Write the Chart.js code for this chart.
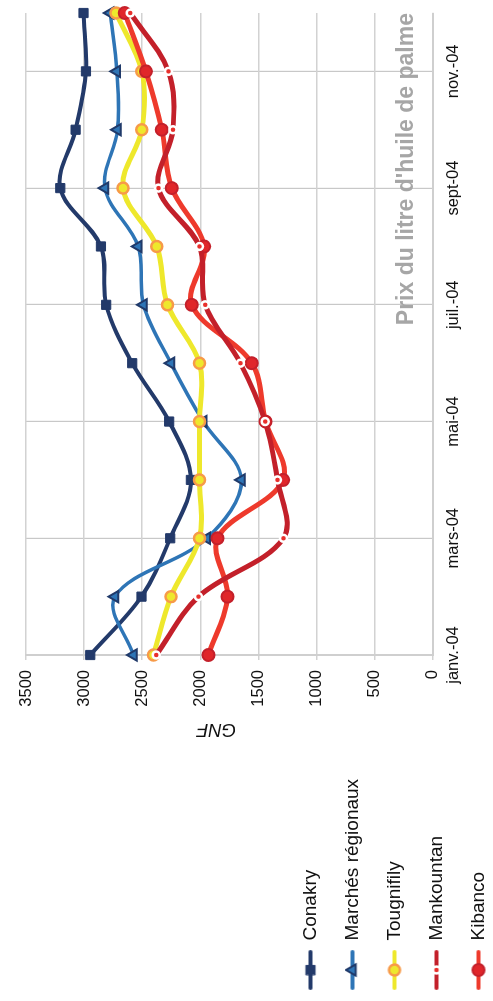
<!DOCTYPE html>
<html>
<head>
<meta charset="utf-8">
<script src="https://cdn.jsdelivr.net/npm/chart.js@4/dist/chart.umd.min.js"></script>
<style>
  html, body { margin: 0; padding: 0; background: #fff; overflow: hidden; }
  /* the chart is drawn the normal way and then turned a quarter turn */
  #wrap { position: absolute; left: 0; top: 0; width: 1001px; height: 493px;
          transform-origin: 0 0; transform: translateY(1001px) rotate(-90deg); }
</style>
</head>
<body>
<div id="wrap"><canvas id="myChart" width="1001" height="493"></canvas></div>
<script>
// Prix du litre d'huile de palme (GNF), janv.-04 -> déc.-04
var Title = "Prix du litre d'huile de palme";
var Months = ['janv.-04', 'févr.-04', 'mars-04', 'avr.-04', 'mai-04', 'juin-04',
              'juil.-04', 'août-04', 'sept-04', 'oct.-04', 'nov.-04', 'déc.-04'];
var Conakry    = [2947, 2506, 2259, 2081, 2268, 2586, 2810, 2855, 3205, 3073, 2984, 3005];
var Regionaux  = [2575, 2735, 1944, 1646, 1975, 2253, 2489, 2534, 2821, 2712, 2718, 2775];
var Tougnifily = [2403, 2253, 2007, 2007, 2007, 2007, 2282, 2374, 2666, 2503, 2503, 2726];
var Mankountan = [2380, 2016, 1285, 1336, 1442, 1655, 1958, 2007, 2360, 2236, 2274, 2602];
var Kibanco    = [1930, 1766, 1852, 1287, 1438, 1557, 2073, 1967, 2245, 2331, 2468, 2650];
var YTicks = [0, 500, 1000, 1500, 2000, 2500, 3000, 3500];

var FONT = '"Liberation Sans", Arial, sans-serif';
Chart.defaults.font.family = FONT;
Chart.defaults.color = '#111';

// little line + marker picture for the legend
function legendIcon(ds) {
  var c = document.createElement('canvas');
  c.width = 40; c.height = 16;
  var g = c.getContext('2d');
  g.strokeStyle = ds.borderColor;
  g.lineWidth = 4;
  g.lineCap = 'round';
  g.beginPath(); g.moveTo(2, 8); g.lineTo(38, 8); g.stroke();
  g.fillStyle = ds.pointBackgroundColor;
  g.strokeStyle = ds.pointBorderColor;
  g.lineWidth = ds.pointBorderWidth;
  Chart.helpers.drawPoint(g, { pointStyle: ds.pointStyle, radius: ds.pointRadius,
                               rotation: 0, borderWidth: ds.pointBorderWidth }, 20, 8);
  return c;
}

var titlePlugin = {
  id: 'innerTitle',
  beforeDatasetsDraw: function (chart) {
    var ctx = chart.ctx, area = chart.chartArea;
    ctx.save();
    ctx.font = 'bold 23px ' + FONT;
    ctx.fillStyle = '#a6a6a6';
    ctx.textAlign = 'right';
    ctx.textBaseline = 'alphabetic';
    ctx.fillText(Title, area.right, area.bottom - 20);
    ctx.restore();
  }
};

var datasets = [{
    label: 'Conakry', data: Conakry, order: 5,
    borderColor: '#233a6a', borderWidth: 4,
    pointStyle: 'rect', pointRadius: 6.5, pointBorderWidth: 1,
    pointBackgroundColor: '#233a6a', pointBorderColor: '#233a6a'
  }, {
    label: 'Marchés régionaux', data: Regionaux, order: 4,
    borderColor: '#2e75b6', borderWidth: 3.5,
    pointStyle: 'triangle', pointRadius: 6.5, pointBorderWidth: 2,
    pointBackgroundColor: '#2e75b6', pointBorderColor: '#203a6a'
  }, {
    label: 'Tougnifily', data: Tougnifily, order: 3,
    borderColor: '#eee82c', borderWidth: 5,
    pointStyle: 'circle', pointRadius: 5.5, pointBorderWidth: 2.5,
    pointBackgroundColor: '#eee82c', pointBorderColor: '#f79a48'
  }, {
    label: 'Mankountan', data: Mankountan, order: 1,
    borderColor: '#c3202a', borderWidth: 5,
    pointStyle: 'circle', pointRadius: 3.5, pointBorderWidth: 2.5,
    pointBackgroundColor: '#e8302c', pointBorderColor: '#ffffff'
  }, {
    label: 'Kibanco', data: Kibanco, order: 2,
    borderColor: '#ee3a2c', borderWidth: 5,
    pointStyle: 'circle', pointRadius: 6, pointBorderWidth: 2,
    pointBackgroundColor: '#e0262a', pointBorderColor: '#c4202a'
  }];
datasets.forEach(function (ds) { ds.tension = 0.35; ds.clip = false; ds.fill = false; });

var ctx = document.getElementById('myChart').getContext('2d');
var myChart = new Chart(ctx, {
  type: 'line',
  data: { labels: Months, datasets: datasets },
  plugins: [titlePlugin],
  options: {
    responsive: false,
    devicePixelRatio: 1,
    animation: false,
    events: [],
    layout: { padding: { left: -12, right: 13, top: 26, bottom: -18 } },
    plugins: {
      tooltip: { enabled: false },
      legend: {
        position: 'left',
        align: 'end',
        labels: {
          usePointStyle: true,
          pointStyleWidth: 40,
          padding: 23,
          color: '#111',
          font: { size: 19 },
          sort: function (a, b) { return a.datasetIndex - b.datasetIndex; },
          generateLabels: function (chart) {
            return Chart.defaults.plugins.legend.labels.generateLabels(chart).map(function (item) {
              item.pointStyle = legendIcon(chart.data.datasets[item.datasetIndex]);
              return item;
            });
          }
        }
      }
    },
    scales: {
      x: {
        afterFit: function (s) { s.height = 78.3; },
        grid: {
          drawTicks: false,
          color: function (c) { return (c.index > 0 && c.index % 2 === 0) ? '#c8c8c8' : 'rgba(0,0,0,0)'; },
          lineWidth: 1.2,
          borderDash: [5, 3]
        },
        border: { color: '#cfcfcf', width: 2 },
        ticks: {
          autoSkip: false, maxRotation: 0, minRotation: 0, padding: 11,
          font: { size: 16.5 }, color: '#111',
          callback: function (v, i) { return i % 2 === 0 ? Months[i] : ''; }
        }
      },
      y: {
        min: YTicks[0], max: YTicks[YTicks.length - 1],
        afterFit: function (s) { s.width = 358 - s.chart.legend.width; },
        grid: { color: '#d2d2d2', lineWidth: 1.5, tickLength: 5 },
        border: { color: '#cfcfcf', width: 2 },
        ticks: { stepSize: 500, padding: 10, font: { size: 16.5 }, color: '#111',
                 callback: function (v) { return String(v); } },
        title: {
          display: true, text: '     GNF', color: '#111',
          font: { size: 18.5, style: 'italic' },
          padding: { top: 29, bottom: 0 }
        }
      }
    }
  }
});
</script>
</body>
</html>
